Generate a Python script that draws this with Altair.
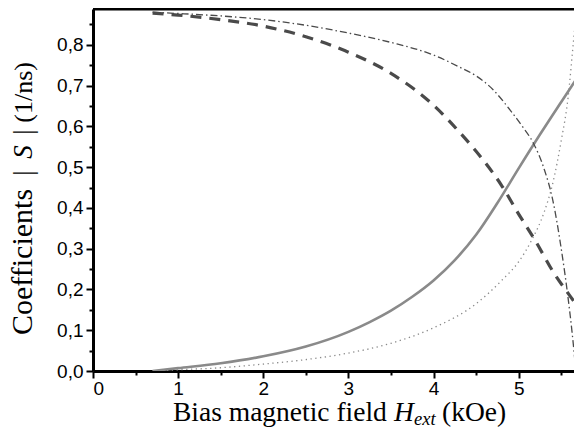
import altair as alt
import pandas as pd

# ---- data ----
solid_x = [0.70, 1.0, 1.5, 2.0, 2.5, 3.0, 3.25, 3.5, 3.75, 4.0, 4.25, 4.5, 4.75, 5.0, 5.25, 5.5, 5.69]
solid_y = [0.0, 0.007, 0.019, 0.036, 0.060, 0.096, 0.120, 0.148, 0.182, 0.222, 0.272, 0.334, 0.412, 0.497, 0.580, 0.660, 0.72]

dotted_x = [0.70, 1.0, 1.5, 2.0, 2.5, 3.0, 3.5, 4.0, 4.5, 4.8, 5.0, 5.15, 5.3, 5.4, 5.5, 5.58, 5.64, 5.686]
dotted_y = [0.0, 0.003, 0.008, 0.017, 0.028, 0.044, 0.068, 0.106, 0.165, 0.222, 0.268, 0.32, 0.39, 0.46, 0.565, 0.67, 0.80, 0.90]

dashed_x = [0.70, 1.0, 1.5, 2.0, 2.5, 3.0, 3.5, 4.0, 4.3, 4.6, 4.8, 5.0, 5.2, 5.4, 5.6, 5.686]
dashed_y = [0.878, 0.873, 0.862, 0.846, 0.82, 0.782, 0.73, 0.652, 0.587, 0.513, 0.455, 0.385, 0.318, 0.245, 0.185, 0.16]

dashdot_x = [0.70, 1.0, 1.5, 2.0, 2.5, 3.0, 3.5, 4.0, 4.3, 4.5, 4.7, 4.9, 5.05, 5.17, 5.3, 5.4, 5.5, 5.58, 5.63, 5.67]
dashdot_y = [0.88, 0.877, 0.871, 0.862, 0.848, 0.829, 0.806, 0.775, 0.746, 0.724, 0.69, 0.64, 0.598, 0.56, 0.495, 0.42, 0.30, 0.18, 0.09, 0.005]

x_ticks = [i * 0.5 for i in range(12)]
y_ticks = [round(i * 0.05, 2) for i in range(18)]

W, H = 481, 362
X_MAX, Y_MAX = 5.65, 0.888
SERIF = "Liberation Serif, Times New Roman, serif"
SANS = "Liberation Sans, Arial, sans-serif"

xs = alt.Scale(domain=[0, X_MAX], nice=False, zero=False)
ys = alt.Scale(domain=[0, Y_MAX], nice=False, zero=False)

xaxis = alt.Axis(
    values=x_ticks, title=None, grid=False,
    labelExpr="datum.value % 1 == 0 ? format(datum.value, 'd') : ''",
    tickSize={"condition": {"test": "datum.value % 1 == 0", "value": 7}, "value": 4},
    domainWidth=3, domainColor="black", tickColor="black", tickWidth=2,
    labelFont=SANS, labelFontSize=19, labelColor="black", labelPadding=1,
)
yaxis = alt.Axis(
    values=y_ticks, title=None, grid=False,
    labelExpr="abs(datum.value*10 - round(datum.value*10)) < 0.01 ? replace(format(datum.value, '.1f'), '.', ',') : ''",
    tickSize={"condition": {"test": "abs(datum.value*10 - round(datum.value*10)) < 0.01", "value": 7}, "value": 4},
    domainWidth=3, domainColor="black", tickColor="black", tickWidth=2,
    labelFont=SANS, labelFontSize=19, labelColor="black", labelPadding=3,
)


def line(xv, yv, color, width, dash=None):
    df = pd.DataFrame({"H": xv, "S": yv})
    kw = dict(color=color, strokeWidth=width, interpolate="monotone", clip=True)
    if dash:
        kw["strokeDash"] = dash
    return alt.Chart(df).mark_line(**kw).encode(
        x=alt.X("H:Q", scale=xs, axis=xaxis),
        y=alt.Y("S:Q", scale=ys, axis=yaxis),
    )


one = pd.DataFrame({"a": [0]})


def label(text, x, y, size, style="normal", angle=0, align="left"):
    return alt.Chart(one).mark_text(
        text=text, font=SERIF, fontSize=size, fontStyle=style,
        angle=angle, align=align, baseline="alphabetic", color="black",
    ).encode(x=alt.value(x), y=alt.value(y))


top_rule = alt.Chart(one).mark_rule(color="black", strokeWidth=3).encode(
    x=alt.value(0), x2=alt.value(W), y=alt.value(0)
)

TY = 412
layers = [
    line(solid_x, solid_y, "#8a8a8a", 2.6),
    line(dotted_x, dotted_y, "#8a8a8a", 1.3, [1.3, 3.5]),
    line(dashed_x, dashed_y, "#4a4a4a", 3.2, [11, 8]),
    line(dashdot_x, dashdot_y, "#4a4a4a", 1.3, [7, 3, 1.5, 3]),
    top_rule,
    # x title
    label("Bias magnetic field", 80, TY, 27.5),
    label("H", 301, TY, 27.5, "italic"),
    label("ext", 321, TY + 4, 18.5, "italic"),
    label("(kOe)", 349, TY, 27.5),
    # y title
    label("Coefficients", -61, 326, 30, angle=270),
    label("|", -61, 164, 27, angle=270, align="center"),
    label("S", -61, 143, 27, "italic", angle=270, align="center"),
    label("|", -61, 123, 27, angle=270, align="center"),
    label("(1/ns)", -61, 53, 26, angle=270, align="right"),
]

chart = alt.layer(*layers).properties(
    width=W, height=H,
    autosize=alt.AutoSizeParams(type="none"),
    padding={"left": 85, "top": 1, "right": 0, "bottom": 58},
).configure_view(stroke=None)

chart.save("out.html", embed_options={"renderer": "svg", "actions": False})
